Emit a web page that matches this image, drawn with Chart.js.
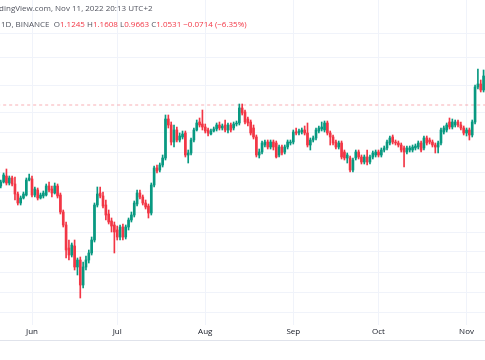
<!DOCTYPE html>
<html>
<head>
<meta charset="utf-8">
<script src="https://cdn.jsdelivr.net/npm/chart.js@4.4.0/dist/chart.umd.min.js"></script>
<style>
    body { margin: 0; background: #fff; }
    #wrap { position: relative; width: 485px; height: 360px; overflow: hidden; }
    .hdr { position: absolute; white-space: nowrap; font-family: "Open Sans", sans-serif; font-size: 8px; color: #50535e; }
    .red { color: #f23645; }
</style>
</head>
<body>
<div id="wrap">
    <canvas id="myChart"></canvas>
    <div class="hdr" style="left:-13px; top:2px;">TradingView.com, Nov 11, 2022 20:13 UTC+2</div>
    <div class="hdr" style="left:1px; top:18px;">1D, BINANCE&nbsp;&nbsp;O<span class="red">1.1245</span> H<span class="red">1.1608</span> L<span class="red">0.9663</span> C<span class="red">1.0531</span> <span class="red">&minus;0.0714 (&minus;6.35%)</span></div>
</div>
<script>
// daily candles, first one is 2022-05-21
var startDate = Date.UTC(2022, 4, 21);
var monthLabels = ['Jun', 'Jul', 'Aug', 'Sep', 'Oct', 'Nov'];

var opens = [
    .815,.825,.84,.8225,.835,.82,.795,.7725,.785,.7925,
    .83,.8325,.7925,.805,.785,.79,.7925,.815,.8075,.7975,
    .815,.7925,.75,.7175,.66,.6425,.665,.6125,.63,.5675,
    .6125,.63,.6475,.68,.7675,.7975,.79,.7675,.745,.7275,
    .7175,.705,.6875,.7125,.6875,.7125,.73,.7425,.77,.7975,
    .7875,.7725,.765,.7475,.8175,.86,.855,.8675,.885,.9825,
    .9675,.925,.955,.93,.9375,.9475,.8925,.8975,.93,.955,
    .975,.97,.9625,.955,.945,.9525,.9575,.9675,.96,.9675,
    .955,.9675,.96,.97,.9725,1.01,1.0,.9825,.975,.96,
    .9375,.8925,.90,.9175,.925,.9125,.925,.9225,.8925,.9125,
    .90,.9125,.9225,.925,.95,.9475,.95,.955,.9475,.9175,
    .93,.935,.9525,.9575,.955,.9725,.9475,.9375,.925,.9125,
    .9225,.90,.885,.885,.855,.885,.90,.8875,.875,.8875,
    .875,.8875,.8925,.90,.8925,.905,.91,.9225,.9375,.925,
    .9225,.9175,.91,.90,.905,.905,.91,.9125,.9225,.91,
    .935,.93,.925,.9175,.9125,.9225,.95,.955,.975,.9625,
    .9675,.975,.9675,.96,.9475,.955,.9425,.975,1.0625,1.07,1.055
];
var highs = [
    .83,.8475,.8575,.84,.84,.8375,.80,.79,.80,.835,
    .845,.84,.8125,.81,.7975,.8025,.82,.825,.815,.8225,
    .82,.7975,.755,.725,.68,.6725,.68,.635,.6375,.625,
    .64,.655,.6875,.7725,.8125,.8125,.80,.78,.755,.735,
    .725,.715,.7175,.72,.7175,.735,.75,.7775,.805,.805,
    .7925,.78,.77,.8225,.865,.8675,.8725,.8925,.9925,.9925,
    .975,.9675,.9625,.9475,.9525,.9525,.905,.935,.96,.98,
    .985,1.005,.97,.96,.9575,.9625,.9725,.975,.97,.98,
    .9725,.9725,.975,.9775,1.02,1.02,1.005,.9875,.98,.9675,
    .9425,.9075,.9275,.93,.93,.93,.93,.9275,.9175,.9175,
    .9175,.93,.93,.955,.96,.9575,.96,.965,.9725,.935,
    .94,.96,.965,.975,.9775,.9775,.9525,.9425,.93,.9275,
    .9275,.905,.8975,.89,.885,.905,.905,.8925,.8925,.905,
    .8925,.9025,.905,.905,.91,.915,.93,.94,.9425,.93,
    .9275,.9225,.915,.915,.915,.9175,.92,.9275,.9275,.94,
    .94,.935,.93,.9225,.9275,.96,.965,.9725,.985,.9825,
    .98,.98,.975,.965,.96,.96,.98,1.0675,1.1075,1.08,1.105
];
var lows = [
    .81,.8225,.8175,.8175,.815,.78,.7675,.7675,.7825,.79,
    .8275,.7875,.7875,.78,.7825,.785,.79,.80,.7875,.795,
    .785,.745,.7125,.635,.63,.6375,.605,.5925,.535,.56,
    .605,.6225,.6425,.675,.7625,.785,.76,.73,.72,.70,
    .6475,.68,.68,.68,.6825,.705,.725,.7375,.765,.7825,
    .7675,.7575,.735,.7425,.8125,.8475,.85,.8625,.88,.96,
    .9175,.9125,.925,.925,.9325,.8875,.8725,.8925,.925,.9525,
    .9625,.955,.9475,.94,.9425,.95,.9525,.955,.955,.95,
    .9475,.95,.955,.965,.9675,.9925,.97,.965,.9425,.9325,
    .8875,.885,.895,.9125,.9075,.9075,.905,.885,.8875,.8925,
    .895,.9075,.9175,.92,.9425,.9425,.945,.9425,.9125,.905,
    .925,.93,.9475,.9525,.95,.9425,.9175,.9175,.9075,.9075,
    .8825,.88,.8725,.85,.85,.88,.8825,.87,.87,.8675,
    .87,.8825,.8875,.8875,.8875,.90,.905,.9175,.92,.9175,
    .9125,.90,.8625,.895,.90,.90,.905,.9075,.90,.905,
    .9175,.92,.9125,.8975,.8975,.9175,.945,.95,.9575,.9575,
    .9625,.9625,.955,.9425,.94,.93,.9375,.97,1.0575,1.05,1.05
];
var closes = [
    .825,.8425,.8225,.835,.82,.795,.7725,.785,.795,.83,
    .835,.7925,.8075,.785,.7925,.7975,.815,.805,.7975,.815,
    .79,.75,.7175,.655,.6425,.6675,.6125,.63,.5675,.6125,
    .63,.6475,.68,.7675,.795,.79,.765,.7425,.725,.715,
    .70,.6875,.7125,.6875,.7125,.73,.7425,.7725,.7975,.7875,
    .7725,.7625,.7475,.8175,.86,.8525,.8675,.885,.9825,.9675,
    .925,.955,.93,.94,.945,.8925,.8975,.93,.955,.9725,
    .9675,.9625,.9525,.9475,.9525,.9575,.9675,.96,.965,.955,
    .9675,.955,.97,.9725,1.01,.9975,.975,.9725,.9475,.9375,
    .8925,.90,.9225,.925,.9125,.925,.9125,.8875,.9125,.8975,
    .9125,.925,.925,.95,.9475,.9525,.955,.9475,.9175,.93,
    .935,.955,.96,.9625,.9725,.9475,.9375,.9225,.9125,.9225,
    .8875,.885,.8925,.855,.88,.90,.8875,.875,.8875,.875,
    .8875,.8975,.90,.8925,.905,.91,.925,.935,.925,.9225,
    .9175,.905,.90,.91,.91,.9125,.915,.9225,.905,.935,
    .9225,.925,.9175,.9125,.9225,.955,.96,.9675,.9625,.975,
    .975,.9675,.96,.9475,.955,.9425,.975,1.0625,1.07,1.055,1.09
];

// horizontal grid levels and the dashed price line
var gridPrices = [1.1975, 1.135, 1.0675, 1.0, 0.95, 0.9, 0.85, 0.8, 0.75, 0.7, 0.65, 0.6, 0.55, 0.5];
var lastPrice = 1.0175;

var upColor = '#089981';
var downColor = '#f23645';
var gridColor = '#f0f3fa';

var xMin = -0.27;
var xMax = 170.5;

// find the first day of each month for the time axis
var monthTicks = [];
var tickText = {};
var m = 0;
for (var i = 0; i <= xMax; i++) {
    var d = new Date(startDate + i * 86400000);
    if (d.getUTCDate() == 1 && m < monthLabels.length) {
        monthTicks.push(i);
        tickText[i] = monthLabels[m];
        m++;
    }
}

var wicks = [];
var bodies = [];
var colors = [];
for (var i = 0; i < closes.length; i++) {
    wicks.push({x: i, y: [lows[i], highs[i]]});
    bodies.push({x: i, y: [opens[i], closes[i]]});
    colors.push(closes[i] >= opens[i] ? upColor : downColor);
}

var bottomLine = {
    id: 'bottomLine',
    afterDraw: function(chart) {
        var c = chart.ctx;
        var y = chart.scales.x.bottom + 0.5;
        c.save();
        c.strokeStyle = '#e0e3eb';
        c.lineWidth = 1;
        c.beginPath();
        c.moveTo(0, y);
        c.lineTo(chart.width, y);
        c.stroke();
        c.restore();
    }
};

var ctx = document.getElementById('myChart').getContext('2d');
var chart = new Chart(ctx, {
    type: 'bar',
    data: {
        datasets: [{
            type: 'line',
            data: [{x: xMin - 1, y: lastPrice}, {x: xMax + 1, y: lastPrice}],
            borderColor: 'rgba(242,54,69,0.4)',
            borderWidth: 1,
            borderDash: [3, 3],
            pointRadius: 0,
            order: 3
        }, {
            data: wicks,
            backgroundColor: colors,
            barThickness: 1,
            grouped: false,
            order: 2
        }, {
            data: bodies,
            backgroundColor: colors,
            barThickness: 2,
            minBarLength: 1,
            grouped: false,
            order: 1
        }]
    },
    options: {
        responsive: true,
        maintainAspectRatio: false,
        animation: false,
        layout: { padding: { left: 0, right: 0, top: 0, bottom: 20 } },
        plugins: {
            legend: { display: false },
            tooltip: { enabled: false }
        },
        scales: {
            x: {
                type: 'linear',
                min: xMin,
                max: xMax,
                offset: false,
                grid: { color: gridColor, drawTicks: false, offset: false },
                border: { display: false },
                afterBuildTicks: function(scale) {
                    scale.ticks = monthTicks.map(function(v) { return {value: v}; });
                },
                afterFit: function(scale) { scale.height = 15; },
                ticks: {
                    autoSkip: false,
                    maxRotation: 0,
                    padding: 2,
                    color: '#131722',
                    font: { family: 'Open Sans', size: 8 },
                    callback: function(v) { return tickText[v]; }
                }
            },
            y: {
                min: 0.4675,
                max: 1.28,
                grid: { color: gridColor, drawTicks: false },
                border: { display: false },
                afterBuildTicks: function(scale) {
                    scale.ticks = gridPrices.map(function(v) { return {value: v}; });
                },
                afterFit: function(scale) { scale.width = 0; },
                ticks: { display: false }
            }
        }
    },
    plugins: [bottomLine]
});
</script>
</body>
</html>
